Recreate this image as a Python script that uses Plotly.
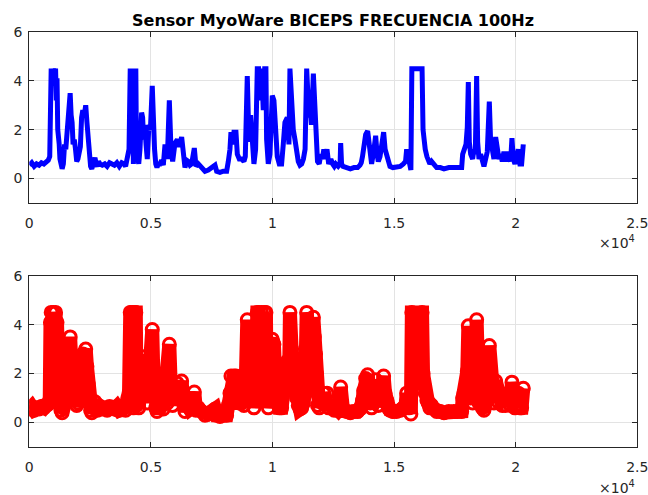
import plotly.graph_objects as go

TITLE = "Sensor MyoWare BICEPS FRECUENCIA 100Hz"

# sample index (n) and sensor amplitude
sample_idx = [
    0, 100, 200, 300, 400, 500, 600, 700, 780, 840,
    870, 900, 950, 990, 1040, 1080, 1110, 1140, 1170, 1200,
    1230, 1260, 1300, 1350, 1400, 1450, 1500, 1560, 1620, 1680,
    1720, 1760, 1800, 1850, 1900, 1950, 2000, 2050, 2100, 2150,
    2200, 2260, 2320, 2370, 2420, 2470, 2520, 2570, 2650, 2700,
    2750, 2800, 2850, 2900, 3000, 3100, 3200, 3300, 3400, 3500,
    3600, 3700, 3800, 3900, 3960, 4000, 4050, 4100, 4150, 4200,
    4240, 4280, 4320, 4350, 4380, 4410, 4450, 4500, 4550, 4618,
    4660, 4700, 4750, 4800, 4851, 4919, 4980, 5056, 5100, 5150,
    5200, 5250, 5300, 5374, 5440, 5511, 5580, 5675, 5758, 5826,
    5895, 5990, 6086, 6169, 6264, 6333, 6401, 6470, 6539, 6610,
    6676, 6785, 6854, 6950, 7087, 7224, 7361, 7498, 7635, 7703,
    7840, 7977, 8114, 8183, 8251, 8292, 8361, 8415, 8498, 8553,
    8635, 8731, 8827, 8881, 8963, 9032, 9100, 9169, 9237, 9306,
    9374, 9429, 9484, 9552, 9620, 9680, 9730, 9758, 9826, 9895,
    9991, 10059, 10128, 10196, 10279, 10374, 10443, 10511, 10607, 10676,
    10717, 10786, 10854, 10923, 10990, 11060, 11130, 11200, 11270, 11340,
    11405, 11450, 11500, 11550, 11600, 11680, 11720, 11770, 11800, 11850,
    11920, 11990, 12050, 12110, 12170, 12240, 12310, 12400, 12470, 12540,
    12600, 12700, 12780, 12803, 12840, 12900, 13050, 13200, 13350, 13500,
    13600, 13650, 13700, 13750, 13830, 13913, 13970, 14020, 14075, 14160,
    14241, 14300, 14350, 14420, 14490, 14570, 14630, 14700, 14760, 14830,
    14950, 15100, 15250, 15380, 15470, 15517, 15610, 15690, 15730, 16150,
    16190, 16230, 16280, 16350, 16400, 16470, 16540, 16650, 16750, 16900,
    17050, 17250, 17450, 17600, 17778, 17819, 17873, 17956, 18010, 18052,
    18093, 18148, 18230, 18284, 18339, 18394, 18435, 18490, 18558, 18627,
    18695, 18764, 18832, 18915, 18969, 19038, 19106, 19175, 19243, 19312,
    19380, 19449, 19517, 19586, 19654, 19723, 19791, 19846, 19901, 19969,
    20038, 20107, 20175, 20244, 20312,
]
amplitude = [
    0.55, 0.65, 0.5, 0.6, 0.55, 0.65, 0.6, 0.7, 0.75, 0.9,
    4.1, 4.5, 3.8, 4.5, 4.2, 4.5, 3.2, 4.1, 2.0, 1.8,
    1.4, 0.8, 0.5, 0.4, 0.6, 1.4, 1.2, 2.2, 3.0, 3.5,
    2.6, 2.3, 1.4, 1.6, 1.2, 0.7, 0.8, 1.0, 1.3, 2.5,
    2.8, 2.6, 3.0, 2.3, 1.6, 1.0, 0.5, 0.4, 0.6, 0.85,
    0.6, 0.5, 0.7, 0.6, 0.55, 0.6, 0.5, 0.65, 0.6, 0.55,
    0.65, 0.5, 0.65, 0.6, 0.5, 0.8, 1.0, 1.2, 4.5, 3.0,
    4.5, 0.6, 2.8, 4.5, 4.5, 0.7, 0.9, 0.6, 1.2, 2.7,
    2.5, 1.6, 2.2, 1.4, 0.8, 2.2, 2.0, 3.8, 2.0, 1.2,
    0.6, 0.45, 0.6, 0.6, 0.75, 0.55, 1.4, 0.8, 3.2, 1.2,
    0.7, 1.45, 1.6, 1.3, 1.7, 0.8, 0.45, 0.75, 0.7, 0.55,
    0.6, 1.25, 0.5, 0.6, 0.45, 0.3, 0.35, 0.45, 0.55, 0.3,
    0.25, 0.3, 0.3, 0.7, 1.2, 1.9, 1.4, 1.9, 1.9, 1.0,
    0.8, 0.8, 0.7, 0.9, 4.2, 1.5, 2.6, 1.6, 0.6, 1.2,
    4.5, 4.5, 3.2, 4.5, 2.8, 4.5, 4.5, 1.6, 0.6, 1.0,
    3.4, 3.2, 1.6, 0.9, 0.6, 0.6, 1.4, 2.3, 2.5, 1.4,
    4.5, 3.0, 2.0, 1.6, 1.0, 0.7, 0.55, 0.6, 0.8, 1.2,
    4.5, 3.5, 2.5, 3.0, 2.2, 4.3, 3.5, 2.8, 2.0, 0.7,
    0.6, 1.0, 0.8, 1.2, 0.8, 1.2, 0.6, 0.8, 0.6, 0.5,
    0.6, 0.5, 0.6, 1.45, 0.6, 0.5, 0.45, 0.4, 0.45, 0.45,
    0.55, 0.65, 0.9, 1.3, 1.8, 1.95, 1.5, 0.8, 0.6, 1.1,
    1.75, 1.0, 0.7, 0.9, 1.4, 1.9, 1.2, 0.9, 0.6, 0.5,
    0.45, 0.45, 0.5, 0.6, 0.7, 1.2, 0.6, 0.35, 4.5, 4.5,
    2.0, 1.5, 1.2, 0.9, 0.8, 0.6, 0.7, 0.55, 0.45, 0.45,
    0.4, 0.45, 0.45, 0.45, 0.45, 1.0, 1.2, 1.4, 2.1, 3.95,
    1.5, 1.0, 0.8, 1.2, 1.0, 4.2, 1.5, 0.8, 1.0, 0.6,
    0.5, 0.8, 1.1, 3.15, 1.5, 1.2, 0.8, 1.7, 1.3, 0.8,
    1.0, 0.7, 1.1, 0.7, 1.1, 0.9, 0.7, 1.65, 0.8, 0.6,
    1.0, 1.2, 0.6, 0.6, 1.4,
]

x_tickvals = [0, 5000, 10000, 15000, 20000, 25000]
x_ticktext = ["0", "0.5", "1", "1.5", "2", "2.5"]
y_tickvals = [0, 2, 4, 6]
y_ticktext = ["0", "2", "4", "6"]

W, H = 648, 495


def px(x):
    return x / W


def py(y):
    return 1 - y / H


xl, xr = px(29.3), px(637.3)
top_dom = [py(203), py(32)]
bot_dom = [py(447), py(275.7)]

FONT = "DejaVu Sans, sans-serif"
AXC = "#262626"

fig = go.Figure()
fig.add_trace(go.Scatter(
    x=sample_idx, y=amplitude, mode="lines",
    line=dict(color="#0000ff", width=5),
    xaxis="x", yaxis="y", showlegend=False,
))
fig.add_trace(go.Scatter(
    x=sample_idx, y=amplitude, mode="lines+markers",
    line=dict(color="#ff0000", width=14),
    marker=dict(symbol="circle-open", size=12, color="#ff0000",
                line=dict(width=3, color="#ff0000")),
    xaxis="x2", yaxis="y2", showlegend=False,
))


def xax(anchor):
    return dict(
        domain=[xl, xr], range=[0, 25000], anchor=anchor, automargin=False,
        tickvals=x_tickvals, ticktext=x_ticktext,
        ticks="inside", ticklen=5, tickcolor=AXC, tickwidth=1,
        showline=True, linecolor=AXC, linewidth=1, mirror="ticks",
        showgrid=True, gridcolor="#e3e3e3", gridwidth=1,
        zeroline=False, ticklabelstandoff=7, ticklabeloverflow="allow",
        tickfont=dict(family=FONT, size=14, color=AXC),
    )


def yax(dom, anchor):
    return dict(
        domain=dom, range=[-1, 6], anchor=anchor, automargin=False,
        tickvals=y_tickvals, ticktext=y_ticktext,
        ticks="inside", ticklen=5, tickcolor=AXC, tickwidth=1,
        showline=True, linecolor=AXC, linewidth=1, mirror="ticks",
        showgrid=True, gridcolor="#e3e3e3", gridwidth=1,
        zeroline=False, ticklabelstandoff=3, ticklabeloverflow="allow",
        tickfont=dict(family=FONT, size=14, color=AXC),
    )


fig.update_layout(
    width=W, height=H,
    margin=dict(l=0, r=0, t=0, b=0, pad=0),
    paper_bgcolor="white", plot_bgcolor="white",
    xaxis=xax("y"), yaxis=yax(top_dom, "x"),
    xaxis2=xax("y2"), yaxis2=yax(bot_dom, "x2"),
    title=dict(text="<b>" + TITLE + "</b>", x=px(333), xanchor="center",
               y=py(20), yanchor="middle", automargin=False,
               font=dict(family=FONT, size=16, color="black")),
    annotations=[
        dict(text="×10<sup>4</sup>", xref="paper", yref="paper",
             x=px(637), y=py(242), xanchor="right", yanchor="middle",
             showarrow=False, font=dict(family=FONT, size=14, color=AXC)),
        dict(text="×10<sup>4</sup>", xref="paper", yref="paper",
             x=px(637), y=py(487), xanchor="right", yanchor="middle",
             showarrow=False, font=dict(family=FONT, size=14, color=AXC)),
    ],
)

fig.write_html(
    "out.html",
    config={"displayModeBar": False},
    post_script="document.body.style.margin='0';"
                "document.body.style.overflow='hidden';",
)
